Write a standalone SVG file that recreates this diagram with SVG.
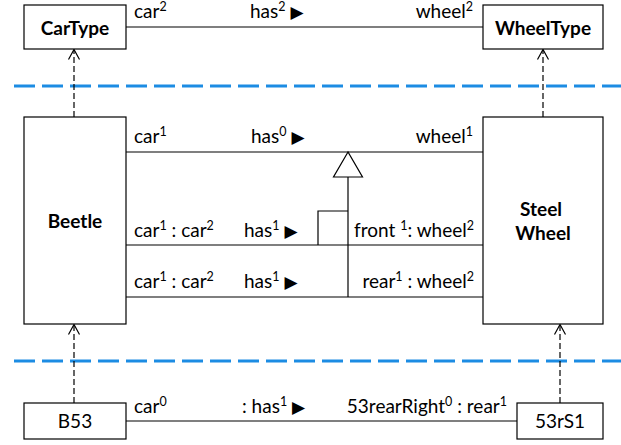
<svg xmlns="http://www.w3.org/2000/svg" width="621" height="445" viewBox="0 0 621 445">
  <style>
    .box { fill: #ffffff; stroke: #000000; stroke-width: 1.2; }
    .assoc { fill: none; stroke: #000000; stroke-width: 1.2; }
    .dep { fill: none; stroke: #000000; stroke-width: 1.2; stroke-dasharray: 6 3; }
    .level { fill: none; stroke: #1c8ce3; stroke-width: 3; stroke-dasharray: 21 7; }
    text { font-family: Lato, "Liberation Sans", sans-serif; font-size: 19px; fill: #000000; }
    .name { font-weight: bold; text-anchor: middle; }
    .inst { text-anchor: middle; }
    .end { text-anchor: end; }
    .sup { font-size: 12.5px; baseline-shift: 7px; }
    .tri { font-family: "DejaVu Sans", sans-serif; font-size: 17px; }
  </style>
  <defs>
    <marker id="open" viewBox="-12 -7 14 14" markerWidth="14" markerHeight="14" markerUnits="userSpaceOnUse" refX="0" refY="0" orient="auto">
      <path d="M-10,-5.5 L0,0 L-10,5.5" fill="none" stroke="#000000" stroke-width="1.2"/>
    </marker>
  </defs>

  <!-- level separators -->
  <g id="levels">
    <line class="level" x1="14" y1="86" x2="621" y2="86"/>
    <line class="level" x1="14" y1="361" x2="621" y2="361"/>
  </g>

  <!-- connectors -->
  <g id="connectors">
    <line class="assoc" x1="126" y1="27" x2="483" y2="27"/>
    <line class="assoc" x1="126" y1="152" x2="483" y2="152"/>
    <line class="assoc" x1="126" y1="245" x2="483" y2="245"/>
    <line class="assoc" x1="126" y1="297" x2="483" y2="297"/>
    <line class="assoc" x1="126" y1="421" x2="517" y2="421"/>
    <!-- specialisation from the two lower links up to the general one -->
    <polygon points="348,152 333.5,177 362.5,177" fill="#ffffff" stroke="#000000" stroke-width="1.2"/>
    <line class="assoc" x1="348" y1="177" x2="348" y2="297"/>
    <path class="assoc" d="M318,245 V211 H348"/>
    <!-- instance-of links -->
    <line class="dep" x1="74" y1="117" x2="74" y2="49.5" marker-end="url(#open)"/>
    <line class="dep" x1="543" y1="117" x2="543" y2="49.5" marker-end="url(#open)"/>
    <line class="dep" x1="74" y1="403" x2="74" y2="324.5" marker-end="url(#open)"/>
    <line class="dep" x1="560" y1="403" x2="560" y2="324.5" marker-end="url(#open)"/>
  </g>

  <!-- link labels -->
  <g id="labels">
    <text x="134" y="18">car<tspan class="sup">2</tspan></text>
    <text x="250" y="18">has<tspan class="sup">2</tspan> <tspan class="tri">▶</tspan></text>
    <text class="end" x="473" y="18">wheel<tspan class="sup">2</tspan></text>

    <text x="134" y="143">car<tspan class="sup">1</tspan></text>
    <text x="251" y="143">has<tspan class="sup">0</tspan> <tspan class="tri">▶</tspan></text>
    <text class="end" x="473" y="143">wheel<tspan class="sup">1</tspan></text>

    <text x="134" y="237">car<tspan class="sup">1</tspan> : car<tspan class="sup">2</tspan></text>
    <text x="244" y="237">has<tspan class="sup">1</tspan> <tspan class="tri">▶</tspan></text>
    <text class="end" x="474" y="237">front <tspan class="sup">1</tspan>: wheel<tspan class="sup">2</tspan></text>

    <text x="134" y="288">car<tspan class="sup">1</tspan> : car<tspan class="sup">2</tspan></text>
    <text x="244" y="288">has<tspan class="sup">1</tspan> <tspan class="tri">▶</tspan></text>
    <text class="end" x="474" y="288">rear<tspan class="sup">1</tspan> : wheel<tspan class="sup">2</tspan></text>

    <text x="134" y="413">car<tspan class="sup">0</tspan></text>
    <text x="242" y="413">: has<tspan class="sup">1</tspan> <tspan class="tri">▶</tspan></text>
    <text class="end" x="507" y="413">53rearRight<tspan class="sup">0</tspan> : rear<tspan class="sup">1</tspan></text>
  </g>

  <!-- nodes -->
  <g id="CarType">
    <rect class="box" x="24" y="5" width="102" height="44"/>
    <text class="name" x="75" y="35">CarType</text>
  </g>
  <g id="WheelType">
    <rect class="box" x="483" y="5" width="120" height="44"/>
    <text class="name" x="543" y="35">WheelType</text>
  </g>
  <g id="Beetle">
    <rect class="box" x="24" y="117" width="102" height="207"/>
    <text class="name" x="75" y="228">Beetle</text>
  </g>
  <g id="SteelWheel">
    <rect class="box" x="483" y="117" width="120" height="207"/>
    <text class="name" x="541" y="216">Steel</text>
    <text class="name" x="543" y="240">Wheel</text>
  </g>
  <g id="B53">
    <rect class="box" x="24" y="403" width="102" height="36"/>
    <text class="inst" x="75" y="428">B53</text>
  </g>
  <g id="rS1">
    <rect class="box" x="517" y="403" width="86" height="36"/>
    <text class="inst" x="560" y="428">53rS1</text>
  </g>
</svg>
